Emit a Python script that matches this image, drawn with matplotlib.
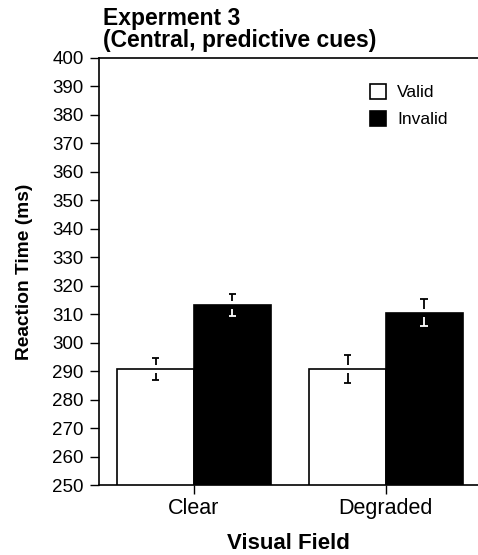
import matplotlib
matplotlib.use("Agg")
import matplotlib.pyplot as plt
from matplotlib.patches import Patch
import numpy as np

plt.rcParams['font.family'] = ['Liberation Sans', 'DejaVu Sans']

categories = ["Clear", "Degraded"]
series = ["Valid", "Invalid"]
valid_means = [290.7, 290.7]
invalid_means = [313.2, 310.5]
valid_err = [3.9, 4.9]
invalid_err = [4.0, 4.8]
yticks = list(range(250, 401, 10))

W, H = 478, 555
fig = plt.figure(figsize=(W/100, H/100), dpi=100)
ax = fig.add_axes([99/W, (H-485)/H, (W-99)/W, (485-58)/H])

x = np.arange(len(categories))
bw = 0.4
gap = 1.4
capw = 0.02

ax.bar(x - bw/2, valid_means, bw, color='white', edgecolor='black', linewidth=1.2, zorder=2)
ax.bar(x + bw/2, invalid_means, bw, color='black', edgecolor='black', linewidth=1.2, zorder=2)

def draw_err(xs, means, errs, lowcolor):
    for xi, m, e in zip(xs, means, errs):
        ax.vlines(xi, m + gap, m + e, color='black', linewidth=1.3, zorder=3)
        ax.hlines(m + e, xi - capw, xi + capw, color='black', linewidth=1.3, zorder=3)
        ax.vlines(xi, m - e, m - gap, color=lowcolor, linewidth=1.3, zorder=3)
        ax.hlines(m - e, xi - capw, xi + capw, color=lowcolor, linewidth=1.3, zorder=3)

draw_err(x - bw/2, valid_means, valid_err, 'black')
draw_err(x + bw/2, invalid_means, invalid_err, 'white')

ax.set_xlim(-0.495, 1.48)
ax.set_ylim(250, 400)
ax.set_yticks(yticks)
ax.set_yticklabels([str(t) for t in yticks], fontsize=13.5)
ax.set_xticks(x)
ax.set_xticklabels(categories, fontsize=15.5)
ax.tick_params(axis='y', direction='out', length=6.5, width=1.0, pad=4.5)
ax.tick_params(axis='x', direction='out', length=6.5, width=1.0, pad=3)
ax.spines['right'].set_visible(False)
for s in ['left', 'bottom', 'top']:
    ax.spines[s].set_linewidth(1.2)

ax.set_ylabel("Reaction Time (ms)", fontsize=13.8, fontweight='bold', labelpad=14)
ax.set_xlabel("Visual Field", fontsize=16, fontweight='bold', labelpad=10)

fig.text(103/W, 1 - 7/H, "Experment 3\n(Central, predictive cues)", fontsize=16.5,
         fontweight='bold', ha='left', va='top', linespacing=0.92)

handles = [Patch(facecolor='white', edgecolor='black', linewidth=1.2),
           Patch(facecolor='black', edgecolor='black', linewidth=1.2)]
ax.legend(handles, series, loc='upper left', bbox_to_anchor=(370/W, 1 - 84/H),
          bbox_transform=fig.transFigure, frameon=False, fontsize=12.5,
          handlelength=0.95, handleheight=0.95, handletextpad=0.6, labelspacing=0.6,
          borderaxespad=0, borderpad=0)

fig.savefig("out.png", dpi=100)
